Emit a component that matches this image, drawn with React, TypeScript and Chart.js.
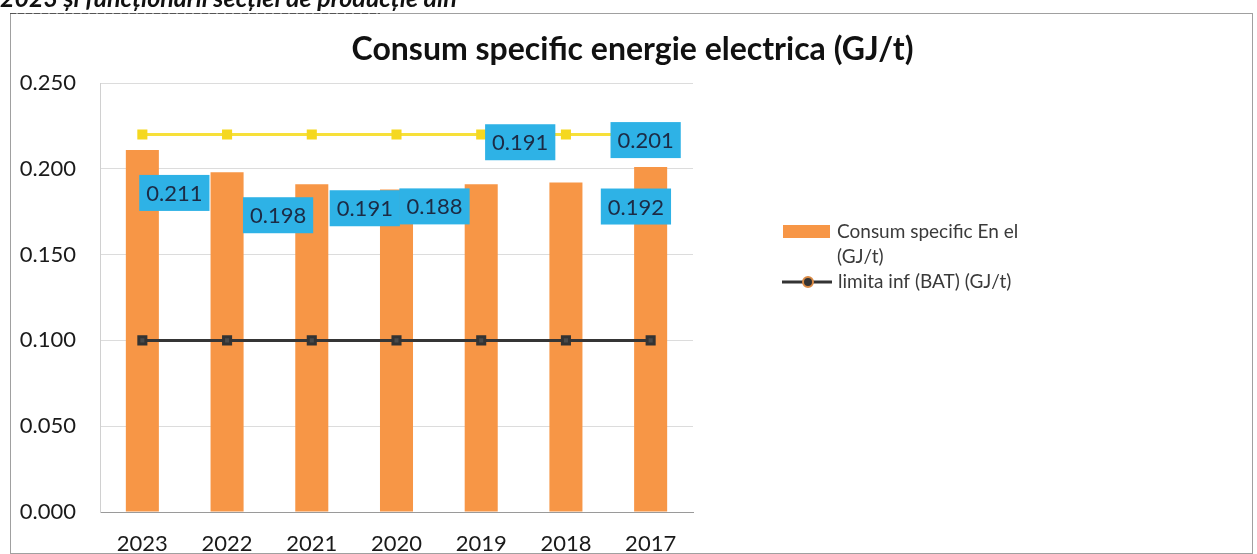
import React, { useEffect, useRef } from "react";
import { Chart, registerables } from "chart.js";

Chart.register(...registerables);

const years = ["2023", "2022", "2021", "2020", "2019", "2018", "2017"];
const consumSpecific = [0.211, 0.198, 0.191, 0.188, 0.191, 0.192, 0.201];
const limitaInf = [0.1, 0.1, 0.1, 0.1, 0.1, 0.1, 0.1];
const limitaSup = [0.22, 0.22, 0.22, 0.22, 0.22, 0.22, 0.22];
const yTickValues = [0, 0.05, 0.1, 0.15, 0.2, 0.25];

const titleText = "Consum specific energie electrica (GJ/t)";
const barLegendLines = ["Consum specific En el", "(GJ/t)"];
const lineLegendText = "limita inf (BAT) (GJ/t)";
const headerText = "2023 și funcționarii secției de producție din";

const FONT = "Lato, 'Liberation Sans', sans-serif";

// label box offsets (px) relative to bar centre / bar top
const LABEL_OFFSETS: [number, number][] = [
  [32, 43],
  [51, 43],
  [53, 24],
  [38, 17],
  [39, -42],
  [70, 24],
  [-5, -27],
];

const overlayPlugin = {
  id: "overlay",
  afterDatasetsDraw(chart: any) {
    const ctx = chart.ctx;
    const meta = chart.getDatasetMeta(2);
    ctx.save();
    ctx.font = `22px ${FONT}`;
    ctx.textAlign = "center";
    ctx.textBaseline = "middle";
    meta.data.forEach((el: any, i: number) => {
      const [dx, dy] = LABEL_OFFSETS[i];
      const cx = el.x + dx;
      const cy = el.y + dy;
      const text = consumSpecific[i].toFixed(3);
      const w = ctx.measureText(text).width + 14;
      const h = 36;
      ctx.fillStyle = "#2eb2e6";
      ctx.fillRect(cx - w / 2, cy - h / 2, w, h);
      ctx.fillStyle = "#1c2b45";
      ctx.fillText(text, cx, cy + 1);
    });
    ctx.restore();
  },
  afterDraw(chart: any) {
    const ctx = chart.ctx;
    const area = chart.chartArea;
    ctx.save();
    // frame
    ctx.strokeStyle = "#a0a0a0";
    ctx.lineWidth = 1;
    ctx.strokeRect(10.5, 13.5, 1242, 540);
    ctx.strokeStyle = "#555";
    ctx.setLineDash([6, 2]);
    ctx.beginPath();
    ctx.moveTo(10, 13.5);
    ctx.lineTo(380, 13.5);
    ctx.stroke();
    ctx.setLineDash([]);

    // title
    ctx.fillStyle = "#111";
    ctx.font = `bold 32px ${FONT}`;
    ctx.textAlign = "center";
    ctx.textBaseline = "middle";
    ctx.fillText(titleText, chart.width / 2 + 4, 50);

    // legend
    const lx = area.right + 90;
    ctx.fillStyle = "#f79646";
    ctx.fillRect(lx, 225, 47, 13);
    ctx.fillStyle = "#3a3a3a";
    ctx.font = `19px ${FONT}`;
    ctx.textAlign = "left";
    ctx.textBaseline = "middle";
    ctx.fillText(barLegendLines[0], lx + 54, 232);
    ctx.fillText(barLegendLines[1], lx + 54, 257);
    ctx.strokeStyle = "#333";
    ctx.lineWidth = 3;
    ctx.beginPath();
    ctx.moveTo(lx - 1, 282);
    ctx.lineTo(lx + 49, 282);
    ctx.stroke();
    ctx.beginPath();
    ctx.arc(lx + 25, 282, 5, 0, Math.PI * 2);
    ctx.fillStyle = "#333";
    ctx.fill();
    ctx.lineWidth = 2;
    ctx.strokeStyle = "#d98a45";
    ctx.stroke();
    ctx.fillStyle = "#3a3a3a";
    ctx.fillText(lineLegendText, lx + 55, 282);
    ctx.restore();
  },
};

export default function App() {
  const ref = useRef<HTMLCanvasElement | null>(null);

  useEffect(() => {
    if (!ref.current) return;
    const chart = new Chart(ref.current, {
      type: "bar",
      data: {
        labels: years,
        datasets: [
          {
            type: "line",
            label: "limita inf (BAT) (GJ/t)",
            data: limitaInf,
            borderColor: "#353535",
            borderWidth: 3,
            pointStyle: "rect",
            pointRadius: 5,
            pointBackgroundColor: "#4a4a4a",
            pointBorderColor: "#333",
            order: 0,
          } as any,
          {
            type: "line",
            label: "limita sup (BAT) (GJ/t)",
            data: limitaSup,
            borderColor: "#f7e03a",
            borderWidth: 3,
            pointStyle: "rect",
            pointRadius: 5,
            pointBackgroundColor: "#f5d820",
            pointBorderColor: "#f5d820",
            order: 0,
          } as any,
          {
            type: "bar",
            label: "Consum specific En el (GJ/t)",
            data: consumSpecific,
            backgroundColor: "#f79646",
            borderWidth: 0,
            barPercentage: 0.39,
            categoryPercentage: 1,
            order: 1,
          } as any,
        ],
      },
      options: {
        responsive: false,
        animation: false,
        devicePixelRatio: 1,
        layout: { padding: { left: 12, right: 564, top: 83, bottom: 0 } },
        plugins: {
          legend: { display: false },
          title: { display: false },
          tooltip: { enabled: false },
        },
        scales: {
          x: {
            grid: { display: false, drawTicks: false },
            border: { color: "#9a9a9a", width: 1 },
            ticks: {
              color: "#1a1a1a",
              font: { family: FONT, size: 22 },
              padding: 19,
              maxRotation: 0,
            },
            afterFit(scale: any) {
              scale.height = 42;
            },
          },
          y: {
            min: 0,
            max: 0.25,
            afterBuildTicks(scale: any) {
              scale.ticks = yTickValues.map((v) => ({ value: v }));
            },
            grid: { color: "#dcdcdc", drawTicks: false, lineWidth: 1 },
            border: { color: "#d0d0d0", width: 1 },
            ticks: {
              color: "#1a1a1a",
              font: { family: FONT, size: 22 },
              padding: 24,
              callback: (v: any) => Number(v).toFixed(3),
            },
            afterFit(scale: any) {
              scale.width = 88;
            },
          },
        },
      },
      plugins: [overlayPlugin],
    });
    return () => chart.destroy();
  }, []);

  return (
    <div style={{ position: "absolute", left: 0, top: 0, width: 1257, height: 554, background: "#fff", overflow: "hidden" }}>
      <div
        style={{
          position: "absolute",
          left: 0,
          top: -18,
          fontFamily: FONT,
          fontStyle: "italic",
          fontWeight: "bold",
          fontSize: 25,
          color: "#111",
          whiteSpace: "nowrap",
        }}
      >
        {headerText}
      </div>
      <canvas ref={ref} width={1257} height={554} style={{ display: "block" }} />
    </div>
  );
}
